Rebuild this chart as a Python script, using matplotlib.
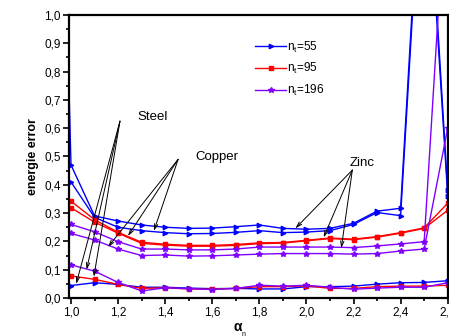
import matplotlib
matplotlib.use("Agg")
import matplotlib.pyplot as plt
from matplotlib.ticker import MultipleLocator, FuncFormatter

plt.rcParams['font.family'] = ['Liberation Sans', 'DejaVu Sans']

# ---- data ----
alpha = [1.0, 1.1, 1.2, 1.3, 1.4, 1.5, 1.6, 1.7, 1.8, 1.9, 2.0, 2.1, 2.2, 2.3, 2.4, 2.5, 2.6]
alpha_ext = [0.98] + alpha

n55_a = [1.10, 0.47, 0.290, 0.272, 0.258, 0.250, 0.246, 0.247, 0.252, 0.258, 0.246, 0.243, 0.246, 0.264, 0.307, 0.317, 1.75, 0.38]
n55_b = [0.41, 0.285, 0.250, 0.238, 0.231, 0.227, 0.228, 0.232, 0.238, 0.231, 0.233, 0.238, 0.260, 0.302, 0.291, 1.70, 0.36]
n55_c = [0.044, 0.054, 0.048, 0.038, 0.038, 0.035, 0.033, 0.034, 0.032, 0.032, 0.040, 0.040, 0.042, 0.049, 0.054, 0.055, 0.061]

n95_a = [0.342, 0.277, 0.232, 0.197, 0.190, 0.186, 0.186, 0.189, 0.195, 0.196, 0.204, 0.212, 0.208, 0.217, 0.231, 0.248, 0.335]
n95_b = [0.319, 0.268, 0.229, 0.193, 0.187, 0.183, 0.183, 0.186, 0.192, 0.194, 0.202, 0.210, 0.206, 0.215, 0.229, 0.246, 0.310]
n95_c = [0.078, 0.066, 0.048, 0.034, 0.036, 0.032, 0.031, 0.034, 0.040, 0.040, 0.043, 0.034, 0.034, 0.040, 0.042, 0.042, 0.045]

n196_a = [0.260, 0.234, 0.199, 0.173, 0.173, 0.170, 0.170, 0.173, 0.180, 0.180, 0.180, 0.180, 0.178, 0.184, 0.191, 0.199, 1.55]
n196_b = [0.228, 0.205, 0.173, 0.150, 0.152, 0.148, 0.149, 0.152, 0.155, 0.157, 0.157, 0.157, 0.155, 0.157, 0.166, 0.173, 0.60]
n196_c = [0.117, 0.095, 0.055, 0.025, 0.036, 0.033, 0.030, 0.034, 0.045, 0.042, 0.045, 0.038, 0.031, 0.035, 0.038, 0.038, 0.054]

labels = ['n$_{\\mathregular{t}}$=55', 'n$_{\\mathregular{t}}$=95', 'n$_{\\mathregular{t}}$=196']
materials = ['Steel', 'Copper', 'Zinc']

# ---- figure ----
fig = plt.figure(figsize=(4.49, 3.36), dpi=100)
ax = fig.add_axes([69/449, 1-298/336, (447.7-69)/449, (298-15)/336])

blue, red, purple = '#0000ff', '#ff0000', '#8000ff'
kw = dict(lw=1.0, clip_on=True)
ax.plot(alpha_ext, n55_a, color=blue, marker='>', ms=3.2, label=labels[0], **kw)
ax.plot(alpha, n55_b, color=blue, marker='>', ms=3.2, **kw)
ax.plot(alpha, n55_c, color=blue, marker='>', ms=3.2, **kw)
ax.plot(alpha, n95_a, color=red, marker='s', ms=3.0, label=labels[1], **kw)
ax.plot(alpha, n95_b, color=red, marker='s', ms=3.0, **kw)
ax.plot(alpha, n95_c, color=red, marker='s', ms=3.0, **kw)
ax.plot(alpha, n196_a, color=purple, marker='*', ms=4.2, label=labels[2], **kw)
ax.plot(alpha, n196_b, color=purple, marker='*', ms=4.2, **kw)
ax.plot(alpha, n196_c, color=purple, marker='*', ms=4.2, **kw)

ax.set_xlim(0.9915, 2.6)
ax.set_ylim(0, 1.0)
ax.xaxis.set_major_locator(MultipleLocator(0.2))
ax.xaxis.set_minor_locator(MultipleLocator(0.1))
ax.yaxis.set_major_locator(MultipleLocator(0.1))
ax.yaxis.set_minor_locator(MultipleLocator(0.05))
fmt = FuncFormatter(lambda v, p: f"{v:.1f}".replace('.', ','))
ax.xaxis.set_major_formatter(fmt)
ax.yaxis.set_major_formatter(fmt)
ax.tick_params(which='both', direction='out', top=False, right=False, labelsize=8.5, width=1.2)
ax.tick_params(which='major', length=4, pad=2)
ax.tick_params(which='minor', length=2)
for s in ax.spines.values():
    s.set_linewidth(1.6)

ax.set_ylabel('energie error', fontsize=9, fontweight='bold', labelpad=4)
fig.text(238/449, 1-327/336, 'α', fontsize=10, fontweight='bold', ha='center', va='center')
fig.text(244/449, 1-334/336, 'n', fontsize=5, ha='center', va='center')

# annotations
arrows = {
    'Steel': ((1.208, 0.625), [(1.022, 0.050), (1.066, 0.100), (1.097, 0.075)], (137/449, 1-117/336)),
    'Copper': ((1.455, 0.49), [(1.157, 0.180), (1.242, 0.219), (1.352, 0.237)], (195/449, 1-157/336)),
    'Zinc': ((2.195, 0.452), [(1.953, 0.246), (2.073, 0.214), (2.148, 0.176)], (350/449, 1-163/336)),
}
for name in materials:
    start, tips, tpos = arrows[name]
    for tip in tips:
        ax.annotate('', xy=tip, xytext=start,
                    arrowprops=dict(arrowstyle='->,head_length=0.5,head_width=0.15', lw=0.7,
                                    color='black', mutation_scale=8, shrinkA=0, shrinkB=0))
    fig.text(tpos[0], tpos[1], name, fontsize=9.5, ha='left', va='center')

leg = ax.legend(loc='upper left', bbox_to_anchor=(0.48, 0.93), frameon=False,
                fontsize=8.5, handlelength=2.6, handletextpad=0.1, labelspacing=0.55,
                numpoints=1, borderaxespad=0)

fig.savefig('out.png', dpi=100)
